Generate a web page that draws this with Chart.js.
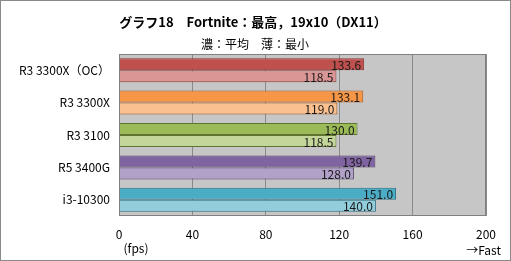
<!DOCTYPE html>
<html>
<head>
<meta charset="utf-8">
<script src="https://cdn.jsdelivr.net/npm/chart.js@4"></script>
<style>
  body { margin: 0; background: #fff; }
</style>
</head>
<body>
<canvas id="canvas" width="511" height="261"></canvas>
<script>
const canvas = document.getElementById("canvas");
const FONT = "'Noto Sans CJK JP', 'Noto Sans', sans-serif";

const cpus = ["R3 3300X（OC）", "R3 3300X", "R3 3100", "R5 3400G", "i3-10300"];
const avgFps = [133.6, 133.1, 130.0, 139.7, 151.0];
const minFps = [118.5, 119.0, 118.5, 128.0, 140.0];
const xTicks = [0, 40, 80, 120, 160, 200];

const darkColors = ["#c0504d", "#f79646", "#9bbb59", "#8064a2", "#4bacc6"];
const lightColors = ["#da9694", "#fac090", "#c4d79b", "#b1a0c7", "#92cddc"];
const edgeColors = ["#8c3836", "#a85a1c", "#5f7530", "#4e3a6a", "#2a6f82"];

const decor = {
	id: "decor",
	beforeDraw(chart) {
		const { ctx, chartArea: a } = chart;
		ctx.save();
		ctx.fillStyle = "#c6c6c6";
		ctx.fillRect(a.left, a.top, a.right - a.left, a.bottom - a.top);
		ctx.restore();
	},
	afterDraw(chart) {
		const { ctx, chartArea: a } = chart;
		ctx.save();
		ctx.strokeStyle = "#808080";
		ctx.lineWidth = 1;
		ctx.strokeRect(Math.round(a.left) + 0.5, Math.round(a.top) + 0.5, Math.round(a.right - a.left) - 1, Math.round(a.bottom - a.top) - 1);
		ctx.strokeStyle = "#8a8a8a";
		ctx.strokeRect(0.5, 0.5, 510, 260);

		// value labels
		ctx.fillStyle = "#1a1a1a";
		ctx.font = "12px " + FONT;
		ctx.textAlign = "right";
		ctx.textBaseline = "middle";
		chart.data.datasets.forEach((ds, di) => {
			chart.getDatasetMeta(di).data.forEach((bar, i) => {
				ctx.fillText(ds.data[i].toFixed(1), bar.x - 3, bar.y + 1);
			});
		});

		ctx.fillStyle = "#000";
		ctx.textAlign = "center";
		ctx.font = "bold 13px " + FONT;
		ctx.fillText("グラフ18　Fortnite：最高，19x10（DX11）", 253, 22);
		ctx.font = "12px " + FONT;
		ctx.fillText("濃：平均　薄：最小", 255, 44);
		ctx.fillText("(fps)", 136, 248);
		ctx.textAlign = "right";
		ctx.fillText("→Fast", 501, 250);
		ctx.restore();
	},
};

const grafico = new Chart(canvas, {
	type: "bar",
	data: {
		labels: cpus,
		datasets: [
			{
				label: "平均",
				data: avgFps,
				backgroundColor: darkColors,
				borderColor: edgeColors,
				borderWidth: 1,
				borderSkipped: "left",
			},
			{
				label: "最小",
				data: minFps,
				backgroundColor: lightColors,
				borderColor: edgeColors,
				borderWidth: 1,
				borderSkipped: "left",
			},
		],
	},
	options: {
		indexAxis: "y",
		responsive: false,
		animation: false,
		layout: { padding: { top: 54, right: 25, left: 0, bottom: 0 } },
		datasets: { bar: { categoryPercentage: 0.74, barPercentage: 1 } },
		plugins: { legend: { display: false }, tooltip: { enabled: false } },
		scales: {
			x: {
				min: 0,
				max: 200,
				afterBuildTicks(axis) {
					axis.ticks = xTicks.map((v) => ({ value: v }));
				},
				afterFit(axis) {
					axis.height = 45;
				},
				grid: { color: "#8a8a8a", drawTicks: false },
				border: { display: false },
				ticks: { color: "#000", padding: 11, font: { family: FONT, size: 12 } },
			},
			y: {
				afterFit(axis) {
					axis.width = 119;
				},
				grid: { display: false, drawTicks: false },
				border: { display: false },
				ticks: { color: "#000", padding: 9, font: { family: FONT, size: 12 } },
			},
		},
	},
	plugins: [decor],
});
</script>
</body>
</html>
